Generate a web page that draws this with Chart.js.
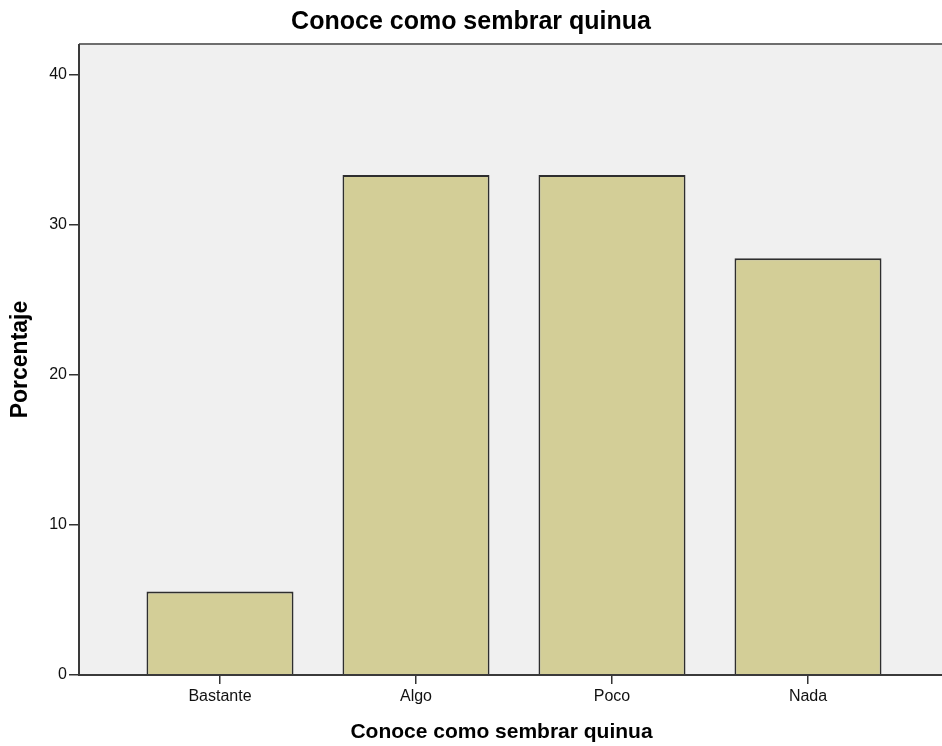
<!DOCTYPE html>
<html>
<head>
<meta charset="utf-8">
<script src="https://cdn.jsdelivr.net/npm/chart.js@4.4.1/dist/chart.umd.min.js"></script>
<style>
  html, body { margin: 0; padding: 0; background: #ffffff; overflow: hidden; }
  #wrap { width: 942px; height: 746px; position: relative; }
</style>
</head>
<body>
<div id="wrap"><canvas id="c" width="942" height="746"></canvas></div>
<script>
const chartTitle = "Conoce como sembrar quinua";
const xAxisTitle = "Conoce como sembrar quinua";
const yAxisTitle = "Porcentaje";
const categories = ["Bastante", "Algo", "Poco", "Nada"];
const percentages = [5.56, 33.33, 33.33, 27.78];
const yTicks = [0, 10, 20, 30, 40];

const FONT = "'Liberation Sans', Arial, Helvetica, sans-serif";

const plotFrame = {
  id: 'plotFrame',
  beforeDraw(chart) {
    const { ctx, chartArea: a } = chart;
    ctx.save();
    ctx.fillStyle = '#f0f0f0';
    ctx.fillRect(a.left, a.top, chart.width - a.left, a.bottom - a.top);
    ctx.restore();
  },
  afterDatasetsDraw(chart) {
    const { ctx, chartArea: a } = chart;
    ctx.save();
    ctx.lineWidth = 2;
    ctx.strokeStyle = '#6e6e6e';
    ctx.beginPath();
    ctx.moveTo(a.left, a.top);
    ctx.lineTo(chart.width, a.top);
    ctx.stroke();
    ctx.strokeStyle = '#3a3a3a';
    ctx.beginPath();
    ctx.moveTo(a.left, a.top);
    ctx.lineTo(a.left, a.bottom);
    ctx.lineTo(chart.width, a.bottom);
    ctx.stroke();
    ctx.restore();
  }
};

new Chart(document.getElementById('c'), {
  type: 'bar',
  data: {
    datasets: [{
      data: categories.map((c, i) => ({ x: i, y: percentages[i] })),
      backgroundColor: '#d3ce97',
      borderColor: '#2e2e2e',
      borderWidth: 1.8,
      barPercentage: 0.75,
      categoryPercentage: 1.0
    }]
  },
  options: {
    responsive: false,
    animation: false,
    layout: { padding: 0 },
    plugins: {
      legend: { display: false },
      tooltip: { enabled: false },
      title: {
        display: true,
        text: chartTitle,
        color: '#000',
        font: { family: FONT, size: 25, weight: 'bold', lineHeight: 1.2 },
        padding: { top: 7, bottom: 7 }
      }
    },
    scales: {
      x: {
        type: 'linear',
        offset: false,
        min: -0.7194,
        max: 3.5918,
        afterBuildTicks: s => { s.ticks = categories.map((c, i) => ({ value: i })); },
        afterFit: s => { s.height = 71; },
        grid: { display: true, offset: false, drawOnChartArea: false, drawTicks: true, tickLength: 9, color: '#333', lineWidth: 1.5 },
        border: { display: false },
        ticks: {
          callback: v => categories[v],
          color: '#111',
          padding: 3,
          maxRotation: 0,
          autoSkip: false,
          font: { family: FONT, size: 16 }
        },
        title: {
          display: true,
          text: xAxisTitle,
          color: '#000',
          font: { family: FONT, size: 21, weight: 'bold', lineHeight: 1.2 },
          padding: { top: 0, bottom: 1 }
        }
      },
      y: {
        min: 0,
        max: 42.07,
        afterBuildTicks: s => { s.ticks = yTicks.map(v => ({ value: v })); },
        afterFit: s => { s.width = 79; },
        grid: { display: true, drawOnChartArea: false, drawTicks: true, tickLength: 10, color: '#333', lineWidth: 1.5 },
        border: { display: false },
        ticks: {
          color: '#111',
          padding: 2,
          font: { family: FONT, size: 16 }
        },
        title: {
          display: true,
          text: yAxisTitle,
          color: '#000',
          font: { family: FONT, size: 23, weight: 'bold', lineHeight: 1.2 },
          padding: { top: 7, bottom: 0 }
        }
      },
      yRight: {
        position: 'right',
        min: 0,
        max: 42.07,
        afterFit: s => { s.width = 18; },
        grid: { display: false },
        border: { display: false },
        ticks: { display: false }
      }
    }
  },
  plugins: [plotFrame]
});
</script>
</body>
</html>
